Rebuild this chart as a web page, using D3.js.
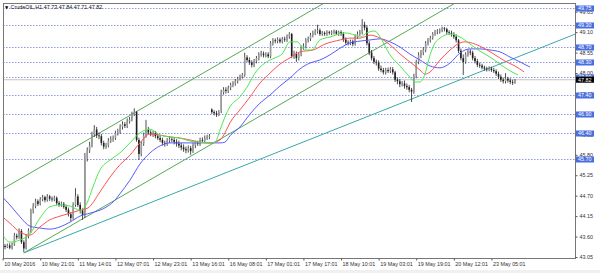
<!DOCTYPE html>
<html>
<head>
    <meta charset="utf-8">
    <script src="https://d3js.org/d3.v7.min.js" type="text/javascript"></script>
    <style>
    body {
        margin: 0;
        background: #fff;
    }
    svg {
        display: block;
        font-family: "Liberation Sans", Arial, sans-serif;
    }
    .level {
        stroke: #8b98e6;
        stroke-width: 1px;
        stroke-dasharray: 1.5, 1.5;
    }
    .bidline {
        stroke: #c4c4c4;
        stroke-width: 1px;
    }
    .wick {
        stroke: #3a3a3a;
        stroke-width: 0.9px;
    }
    .ma {
        fill: none;
        stroke-width: 1px;
    }
    </style>
</head>
<body>
    <svg id="chart" width="600" height="273"></svg>
    <script type="text/javascript">
    // H1 candles, one entry per bar
    var opens = [43.35,43.32,43.36,43.30,43.38,43.62,43.58,43.75,43.45,43.28,
        43.60,43.76,44.30,44.42,44.55,44.48,44.60,44.66,44.58,44.68,
        44.62,44.60,44.64,44.50,44.45,44.48,44.40,44.32,44.20,44.10,
        44.45,44.68,44.45,44.30,44.18,45.70,45.92,46.05,46.35,46.48,
        46.32,46.30,46.12,46.02,46.05,46.18,46.22,46.25,46.38,46.42,
        46.55,46.62,46.58,46.70,46.75,46.90,46.95,46.20,45.82,46.10,
        46.32,46.48,46.40,46.35,46.38,46.30,46.25,46.20,46.12,46.10,
        46.18,46.22,46.20,46.15,46.10,46.05,46.00,45.95,45.92,45.98,
        45.90,46.05,46.12,46.10,46.20,46.18,46.25,46.28,47.02,46.95,
        46.92,46.88,46.98,47.48,47.55,47.52,47.60,47.68,47.72,47.78,
        47.85,47.90,47.95,48.42,48.35,48.28,48.22,48.32,48.40,48.50,
        48.52,48.48,48.50,48.45,48.80,48.88,48.86,48.90,48.85,48.92,
        48.90,48.98,49.05,48.45,48.52,48.40,48.50,48.68,48.72,48.88,
        48.92,49.02,49.08,49.12,49.15,49.05,49.08,49.05,49.10,49.08,
        49.10,49.12,49.06,49.10,49.05,48.90,48.82,48.80,48.85,48.78,
        48.98,49.05,49.10,49.30,49.22,48.80,48.55,48.40,48.30,48.28,
        48.12,48.08,48.02,48.08,48.05,48.10,48.02,47.82,47.78,47.70,
        47.72,47.65,47.62,47.55,47.50,47.92,48.30,48.48,48.55,48.62,
        48.80,48.88,48.95,49.05,49.10,49.12,49.15,49.20,49.18,49.10,
        49.08,49.05,48.98,48.88,48.60,48.40,48.30,48.50,48.58,48.55,
        48.40,48.32,48.22,48.20,48.15,48.12,48.10,48.12,48.08,48.05,
        47.98,47.90,47.82,47.78,47.85,47.80,47.76,47.73];

    var highs = [43.40,43.41,43.42,43.44,43.70,43.68,43.82,43.80,43.50,43.66,
        43.82,44.35,44.50,44.62,44.60,44.66,44.72,44.70,44.74,44.72,
        44.68,44.70,44.68,44.56,44.54,44.53,44.46,44.38,44.26,44.52,
        44.90,44.74,44.52,44.36,45.85,46.00,46.15,46.42,46.60,46.55,
        46.40,46.36,46.18,46.12,46.25,46.30,46.32,46.45,46.50,46.62,
        46.70,46.68,46.78,46.82,46.96,47.05,46.98,46.26,46.16,46.40,
        46.74,46.55,46.46,46.44,46.44,46.36,46.32,46.26,46.18,46.25,
        46.30,46.28,46.26,46.22,46.18,46.12,46.08,46.02,46.05,46.04,
        46.12,46.18,46.18,46.26,46.27,46.32,46.34,46.36,47.05,47.00,
        46.98,47.00,47.55,47.62,47.62,47.66,47.74,47.78,47.84,47.90,
        47.96,48.00,48.55,48.48,48.42,48.34,48.38,48.46,48.56,48.60,
        48.58,48.56,48.56,48.86,48.94,48.93,48.96,48.95,48.97,48.98,
        49.04,49.10,49.08,48.60,48.58,48.55,48.74,48.80,48.94,48.98,
        49.08,49.14,49.18,49.30,49.20,49.13,49.12,49.15,49.14,49.15,
        49.17,49.16,49.14,49.15,49.10,48.96,48.88,48.90,48.90,49.04,
        49.12,49.16,49.45,49.38,49.28,48.86,48.62,48.46,48.36,48.34,
        48.20,48.14,48.14,48.15,48.16,48.16,48.06,47.88,47.84,47.78,
        47.80,47.72,47.68,47.60,47.98,48.36,48.56,48.62,48.70,48.86,
        48.94,49.00,49.10,49.16,49.18,49.20,49.25,49.24,49.22,49.15,
        49.14,49.10,49.04,48.92,48.66,48.50,48.56,48.64,48.64,48.60,
        48.46,48.38,48.28,48.25,48.20,48.17,48.18,48.17,48.14,48.10,
        48.04,47.96,47.88,48.00,47.90,47.86,47.82,47.84];

    var lows = [43.26,43.29,43.26,43.25,43.35,43.52,43.54,43.40,43.18,43.25,
        43.55,43.70,44.22,44.36,44.42,44.44,44.55,44.52,44.54,44.56,
        44.54,44.55,44.45,44.40,44.40,44.35,44.26,44.14,44.00,44.05,
        44.40,44.40,44.22,44.05,44.10,45.62,45.85,46.00,46.28,46.25,
        46.22,46.05,45.95,45.96,46.00,46.12,46.15,46.20,46.32,46.36,
        46.48,46.52,46.52,46.64,46.70,46.84,46.15,45.66,45.76,46.04,
        46.26,46.34,46.30,46.28,46.24,46.20,46.14,46.05,46.02,46.04,
        46.12,46.14,46.08,46.02,45.98,45.92,45.88,45.84,45.86,45.80,
        45.85,45.98,46.04,46.04,46.12,46.12,46.20,46.22,46.90,46.86,
        46.82,46.84,46.92,47.42,47.45,47.46,47.54,47.62,47.66,47.72,
        47.80,47.85,47.90,48.30,48.22,48.15,48.16,48.26,48.34,48.44,
        48.42,48.42,48.40,48.40,48.74,48.80,48.80,48.80,48.80,48.84,
        48.84,48.92,48.40,48.38,48.30,48.34,48.45,48.62,48.66,48.82,
        48.86,48.96,49.02,49.06,49.00,49.00,49.00,49.00,49.03,49.02,
        49.04,49.02,49.00,49.00,48.84,48.76,48.74,48.75,48.72,48.74,
        48.92,49.00,49.04,49.15,48.74,48.48,48.34,48.24,48.20,48.06,
        48.02,47.96,47.96,48.00,48.00,47.96,47.76,47.70,47.62,47.64,
        47.58,47.55,47.48,47.22,47.44,47.86,48.24,48.40,48.48,48.56,
        48.74,48.82,48.90,49.00,49.04,49.06,49.10,49.12,49.04,49.02,
        48.98,48.92,48.82,48.54,48.34,47.95,48.25,48.44,48.48,48.34,
        48.26,48.16,48.14,48.10,48.06,48.04,48.05,48.03,48.00,47.92,
        47.84,47.76,47.72,47.72,47.74,47.70,47.68,47.71];

    var closes = [43.32,43.36,43.30,43.38,43.62,43.58,43.75,43.45,43.28,43.60,
        43.76,44.30,44.42,44.55,44.48,44.60,44.66,44.58,44.68,44.62,
        44.60,44.64,44.50,44.45,44.48,44.40,44.32,44.20,44.10,44.45,
        44.68,44.45,44.30,44.18,45.70,45.92,46.05,46.35,46.48,46.32,
        46.30,46.12,46.02,46.05,46.18,46.22,46.25,46.38,46.42,46.55,
        46.62,46.58,46.70,46.75,46.90,46.95,46.20,45.82,46.10,46.32,
        46.48,46.40,46.35,46.38,46.30,46.25,46.20,46.12,46.10,46.18,
        46.22,46.20,46.15,46.10,46.05,46.00,45.95,45.92,45.98,45.90,
        46.05,46.12,46.10,46.20,46.18,46.25,46.28,46.30,46.95,46.92,
        46.88,46.95,47.48,47.55,47.52,47.60,47.68,47.72,47.78,47.85,
        47.90,47.95,48.42,48.35,48.28,48.22,48.32,48.40,48.50,48.52,
        48.48,48.50,48.45,48.80,48.88,48.86,48.90,48.85,48.92,48.90,
        48.98,49.05,48.45,48.52,48.40,48.50,48.68,48.72,48.88,48.92,
        49.02,49.08,49.12,49.15,49.05,49.08,49.05,49.10,49.08,49.10,
        49.12,49.06,49.10,49.05,48.90,48.82,48.80,48.85,48.78,48.98,
        49.05,49.10,49.30,49.22,48.80,48.55,48.40,48.30,48.28,48.12,
        48.08,48.02,48.08,48.05,48.10,48.02,47.82,47.78,47.70,47.72,
        47.65,47.62,47.55,47.50,47.92,48.30,48.48,48.55,48.62,48.80,
        48.88,48.95,49.05,49.10,49.12,49.15,49.20,49.18,49.10,49.08,
        49.05,48.98,48.88,48.60,48.40,48.30,48.50,48.58,48.55,48.40,
        48.32,48.22,48.20,48.15,48.12,48.10,48.12,48.08,48.05,47.98,
        47.90,47.82,47.78,47.85,47.80,47.76,47.74,47.82];

    // Alligator lines, sampled as [bar, price]
    var lipsPts = [[-1,43.64],[2.1,43.45],[6.4,43.51],[10.6,43.67],[14.9,44.10],[19.1,44.40],
        [23.4,44.45],[27.7,44.42],[31.9,44.31],[34.9,44.50],[37.4,44.93],[40.4,45.39],
        [44.7,45.66],[48.9,45.85],[53.2,46.12],[57.4,46.39],[61.7,46.49],[66.0,46.33],
        [70.2,46.28],[74.5,46.25],[78.7,46.17],[83.0,46.14],[87.2,46.12],[89.4,46.14],
        [91.5,46.47],[93.6,46.82],[95.7,47.09],[100.0,47.36],[103.0,47.62],[106.4,48.00],
        [110.6,48.27],[114.9,48.41],[117.9,48.51],[121.3,48.84],[124.3,48.84],[127.7,48.62],
        [130.6,48.62],[134.0,48.89],[138.3,48.97],[144.7,49.08],[148.9,49.02],[151.1,48.97],
        [154.0,49.08],[157.4,49.13],[159.6,48.97],[163.8,48.49],[168.1,48.19],[172.3,47.89],
        [174.5,47.76],[176.6,47.76],[178.7,47.97],[180.9,48.49],[183.0,48.81],[185.1,48.94],
        [189.4,49.05],[193.6,48.97],[197.9,48.78],[202.1,48.59],[206.4,48.43],[210.6,48.24],
        [214.9,48.06],[218.3,47.95]];

    var teethPts = [[-1,44.13],[2.1,43.96],[6.4,43.72],[10.6,43.64],[14.9,43.86],[19.1,44.05],
        [23.4,44.15],[27.7,44.23],[31.9,44.31],[35.3,44.37],[40.4,44.80],[44.7,45.20],
        [48.9,45.53],[53.2,45.79],[57.4,46.12],[61.7,46.36],[66.0,46.33],[70.2,46.28],
        [74.5,46.25],[78.7,46.20],[83.0,46.14],[87.2,46.12],[91.5,46.20],[93.6,46.39],
        [95.7,46.66],[100.0,47.01],[104.3,47.36],[108.5,47.73],[112.8,48.00],[117.0,48.24],
        [121.3,48.41],[125.5,48.57],[131.1,48.62],[136.2,48.78],[142.6,48.89],[146.8,48.94],
        [151.1,48.94],[155.3,49.02],[159.6,48.94],[163.8,48.76],[168.1,48.51],[172.3,48.30],
        [176.6,48.08],[178.7,47.97],[180.9,48.03],[185.1,48.35],[189.4,48.62],[193.6,48.81],
        [195.7,48.84],[200.0,48.78],[204.3,48.65],[208.5,48.49],[212.8,48.32],[217.0,48.19],
        [220.9,48.03]];

    var jawPts = [[-1,44.66],[2.1,44.45],[6.4,44.13],[10.6,43.88],[14.9,43.83],[19.1,43.80],
        [23.4,43.86],[27.7,43.99],[31.9,44.15],[36.2,44.23],[40.4,44.31],[43.8,44.42],
        [46.8,44.58],[48.9,44.75],[53.2,45.12],[57.4,45.55],[61.7,45.85],[66.0,46.04],
        [70.2,46.12],[74.5,46.12],[78.7,46.12],[83.0,46.12],[87.2,46.12],[91.5,46.12],
        [93.6,46.14],[95.7,46.31],[100.0,46.55],[104.3,46.90],[108.5,47.19],[112.8,47.41],
        [117.0,47.65],[121.3,47.87],[125.5,48.11],[129.8,48.27],[134.0,48.35],[138.3,48.49],
        [142.6,48.67],[146.8,48.81],[151.1,48.86],[155.3,48.89],[159.6,48.92],[163.8,48.84],
        [168.1,48.70],[172.3,48.51],[176.6,48.35],[180.9,48.19],[185.1,48.14],[189.4,48.27],
        [193.6,48.54],[197.9,48.65],[202.1,48.65],[206.4,48.62],[210.6,48.57],[214.9,48.43],
        [219.1,48.30],[223.4,48.16]];

    // trend lines: two anchors [bar, price], drawn as rays to the right
    var upperChannel = [[-1,44.88],[130,49.67]];
    var lowerChannel = [[8,43.16],[180,49.46]];
    var trendLine = [[8,43.16],[173,47.30]];

    var levels = [49.75, 49.30, 48.70, 48.30, 47.90, 47.40, 46.90, 46.40, 45.70];
    var priceTicks = [43.05, 43.60, 44.15, 44.70, 45.25, 45.80, 46.35, 46.90, 47.45, 48.00, 48.55, 49.10, 49.65];
    var bidPrice = 47.82;

    var timeTickBars = [-1, 15, 31, 47, 63, 79, 95, 111, 127, 143, 159, 175, 191, 207];
    var timeLabels = ["10 May 2016", "10 May 21:01", "11 May 14:01", "12 May 07:01", "12 May 23:01",
        "13 May 16:01", "16 May 08:01", "17 May 01:01", "17 May 17:01", "18 May 10:01",
        "19 May 03:01", "19 May 19:01", "20 May 12:01", "23 May 05:01"];

    var symbolTitle = "CrudeOIL,H1";
    var titleOHLC = [47.73, 47.84, 47.71, 47.82];

    var plot = { left: 3, top: 3, right: 575, bottom: 258 };
    var fs = 5.4;

    var svg = d3.select("#chart");

    // light grey window strip at the bottom
    svg.append("rect").attr("x", 0).attr("y", 270).attr("width", 600).attr("height", 3).attr("fill", "#f0f0f0");

    var x = d3.scaleLinear().domain([0, 217]).range([5, 5 + 217 * 2.35]);
    var y = d3.scaleLinear().domain([43.05, 49.75]).range([257, 8]);

    svg.append("clipPath").attr("id", "clip")
        .append("rect")
        .attr("x", plot.left).attr("y", plot.top)
        .attr("width", plot.right - plot.left).attr("height", plot.bottom - plot.top);

    var g = svg.append("g").attr("clip-path", "url(#clip)");

    // horizontal price levels
    g.selectAll(".level")
        .data(levels)
        .enter()
        .append("line")
        .attr("class", "level")
        .attr("x1", plot.left).attr("x2", plot.right)
        .attr("y1", function(d) { return Math.round(y(d)) + 0.5; })
        .attr("y2", function(d) { return Math.round(y(d)) + 0.5; });

    g.append("line")
        .attr("class", "bidline")
        .attr("x1", plot.left).attr("x2", plot.right)
        .attr("y1", y(bidPrice)).attr("y2", y(bidPrice));

    // rays: extend from first anchor through second to the right edge
    var rightBar = x.invert(plot.right + 2);
    function rayPoints(a) {
        var slope = (a[1][1] - a[0][1]) / (a[1][0] - a[0][0]);
        return [a[0], [rightBar, a[0][1] + slope * (rightBar - a[0][0])]];
    }
    var toLine = d3.line()
        .x(function(d) { return x(d[0]); })
        .y(function(d) { return y(d[1]); });

    var rays = [
        { pts: upperChannel, color: "#55a955" },
        { pts: lowerChannel, color: "#55a955" },
        { pts: trendLine, color: "#3aa8a8" }
    ];
    g.selectAll(".ray")
        .data(rays)
        .enter()
        .append("path")
        .attr("class", "ray")
        .attr("fill", "none")
        .attr("stroke", function(d) { return d.color; })
        .attr("stroke-width", 1)
        .attr("d", function(d) { return toLine(rayPoints(d.pts)); });

    // candles
    var bars = d3.range(closes.length);
    g.selectAll(".wick")
        .data(bars)
        .enter()
        .append("line")
        .attr("class", "wick")
        .attr("x1", function(i) { return x(i); })
        .attr("x2", function(i) { return x(i); })
        .attr("y1", function(i) { return y(highs[i]); })
        .attr("y2", function(i) { return y(lows[i]); });

    g.selectAll(".body")
        .data(bars)
        .enter()
        .append("rect")
        .attr("class", "body")
        .attr("x", function(i) { return x(i) - 0.8; })
        .attr("width", 1.6)
        .attr("y", function(i) { return y(Math.max(opens[i], closes[i])); })
        .attr("height", function(i) { return Math.max(0.7, Math.abs(y(opens[i]) - y(closes[i]))); })
        .attr("fill", function(i) { return closes[i] >= opens[i] ? "#9a9a9a" : "#1e1e1e"; });

    // alligator
    var maLine = d3.line()
        .curve(d3.curveMonotoneX)
        .x(function(d) { return x(d[0]); })
        .y(function(d) { return y(d[1]); });

    var mas = [
        { pts: jawPts, color: "#5a5aff" },
        { pts: teethPts, color: "#ff5252" },
        { pts: lipsPts, color: "#4ee84e" }
    ];
    g.selectAll(".ma")
        .data(mas)
        .enter()
        .append("path")
        .attr("class", "ma")
        .attr("stroke", function(d) { return d.color; })
        .attr("d", function(d) { return maLine(d.pts); });

    // frame
    svg.append("rect")
        .attr("x", plot.left + 0.5).attr("y", plot.top + 0.5)
        .attr("width", plot.right - plot.left).attr("height", plot.bottom - plot.top)
        .attr("fill", "none").attr("stroke", "#777");

    // title
    svg.append("text")
        .attr("x", 5).attr("y", 8.6)
        .attr("font-size", 4.2)
        .attr("font-family", "DejaVu Sans")
        .text("\u25BC");
    svg.append("text")
        .attr("x", 10.5).attr("y", 8.6)
        .attr("font-size", fs)
        .attr("fill", "#111")
        .text(symbolTitle + "  " + titleOHLC.map(function(v) { return v.toFixed(2); }).join(" "));

    // price scale
    var yAxis = d3.axisRight(y).tickValues(priceTicks).tickSize(2).tickPadding(2)
        .tickFormat(d3.format(".2f"));
    var gy = svg.append("g").attr("transform", "translate(" + (plot.right + 0.5) + ",0)").call(yAxis);
    gy.select(".domain").remove();
    gy.selectAll("line").attr("stroke", "#555");
    gy.selectAll("text").attr("font-size", fs).attr("font-family", "Liberation Sans, Arial, sans-serif").attr("fill", "#333");

    var tags = svg.append("g");
    levels.forEach(function(v) {
        var yy = Math.round(y(v)) + 0.5;
        tags.append("rect").attr("x", plot.right + 1).attr("y", yy - 3).attr("width", 18).attr("height", 6).attr("fill", "#4a6ee0");
        tags.append("text").attr("x", plot.right + 3).attr("y", yy).attr("dy", "0.35em")
            .attr("font-size", fs).attr("fill", "#fff").text(v.toFixed(2));
    });
    var by = y(bidPrice);
    tags.append("rect").attr("x", plot.right + 1).attr("y", by - 3).attr("width", 18).attr("height", 6).attr("fill", "#000");
    tags.append("text").attr("x", plot.right + 3).attr("y", by).attr("dy", "0.35em")
        .attr("font-size", fs).attr("fill", "#fff").text(bidPrice.toFixed(2));

    // time scale
    var xAxis = d3.axisBottom(x).tickValues(timeTickBars).tickSize(2).tickPadding(2)
        .tickFormat(function(d, i) { return timeLabels[i]; });
    var gx = svg.append("g").attr("transform", "translate(0," + (plot.bottom + 0.5) + ")").call(xAxis);
    gx.select(".domain").remove();
    gx.selectAll("line").attr("stroke", "#555");
    gx.selectAll("text")
        .attr("text-anchor", "start")
        .attr("x", 1)
        .attr("font-size", fs)
        .attr("font-family", "Liberation Sans, Arial, sans-serif")
        .attr("fill", "#333");
    </script>
</body>
</html>
